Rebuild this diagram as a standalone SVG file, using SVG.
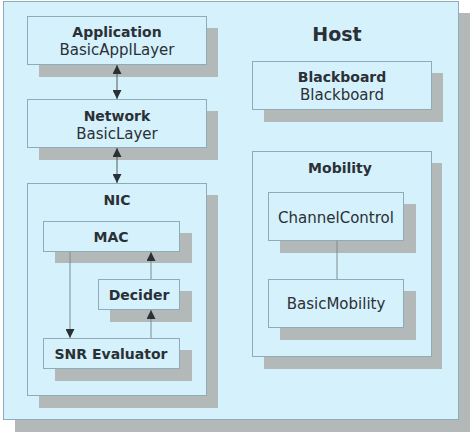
<svg xmlns="http://www.w3.org/2000/svg" width="474" height="434" viewBox="0 0 474 434">
<style>
.sh{fill:#b3b8b9}
.bx{fill:#d5f1fb;stroke:#8fabb8;stroke-width:1}
text{font-family:"DejaVu Sans","Liberation Sans",sans-serif;fill:#2a3036;text-anchor:middle}
.b{font-weight:bold;font-size:14px}
.r{font-size:15px}
.h{font-weight:bold;font-size:19px}
.cn{stroke:#555a5e;stroke-width:1;fill:none}
.cl{stroke:#7f8a8f;stroke-width:1;fill:none}
</style>
<defs>
<marker id="ah" viewBox="0 0 10 10" refX="10" refY="5" markerWidth="9" markerHeight="9" markerUnits="userSpaceOnUse" orient="auto-start-reverse">
<path d="M0,0 L10,5 L0,10 z" fill="#2a3036"/>
</marker>
</defs>
<g id="host">
<rect class="sh" x="15" y="13" width="455" height="419"/>
<rect class="bx" x="3.5" y="1.5" width="455" height="418"/>
<text class="h" x="337" y="41">Host</text>
</g>
<g id="application">
<rect class="sh" x="39" y="28" width="179" height="49"/>
<rect class="bx" x="27.5" y="16.5" width="179" height="48"/>
<text class="b" x="117" y="37">Application</text>
<text class="r" x="117" y="55">BasicApplLayer</text>
</g>
<g id="network">
<rect class="sh" x="39" y="111" width="179" height="49"/>
<rect class="bx" x="27.5" y="99.5" width="179" height="48"/>
<text class="b" x="117" y="121">Network</text>
<text class="r" x="117" y="139">BasicLayer</text>
</g>
<g id="nic">
<rect class="sh" x="39" y="195" width="179" height="213"/>
<rect class="bx" x="27.5" y="183.5" width="179" height="212"/>
<text class="b" x="117" y="205">NIC</text>
</g>
<g id="mac">
<rect class="sh" x="55" y="233" width="137" height="30"/>
<rect class="bx" x="43.5" y="221.5" width="136" height="30"/>
<text class="b" x="111" y="242">MAC</text>
</g>
<g id="decider">
<rect class="sh" x="110" y="291" width="82" height="31"/>
<rect class="bx" x="98.5" y="279.5" width="81" height="30"/>
<text class="b" x="139" y="300">Decider</text>
</g>
<g id="snr">
<rect class="sh" x="55" y="350" width="137" height="31"/>
<rect class="bx" x="43.5" y="338.5" width="136" height="30"/>
<text class="b" x="111" y="359">SNR Evaluator</text>
</g>
<g id="blackboard">
<rect class="sh" x="264" y="73" width="179" height="49"/>
<rect class="bx" x="252.5" y="61.5" width="179" height="48"/>
<text class="b" x="342" y="82">Blackboard</text>
<text class="r" x="342" y="100">Blackboard</text>
</g>
<g id="mobility">
<rect class="sh" x="264" y="163" width="178" height="206"/>
<rect class="bx" x="252.5" y="151.5" width="179" height="205"/>
<text class="b" x="340" y="173">Mobility</text>
</g>
<g id="channelcontrol">
<rect class="sh" x="280" y="204" width="136" height="49"/>
<rect class="bx" x="268.5" y="192.5" width="135" height="48"/>
<text class="r" x="336" y="223">ChannelControl</text>
</g>
<g id="basicmobility">
<rect class="sh" x="280" y="291" width="136" height="49"/>
<rect class="bx" x="268.5" y="279.5" width="135" height="48"/>
<text class="r" x="336" y="309">BasicMobility</text>
</g>
<g id="connectors">
<line class="cn" x1="117" y1="65" x2="117" y2="99" marker-start="url(#ah)" marker-end="url(#ah)"/>
<line class="cn" x1="117" y1="148" x2="117" y2="183" marker-start="url(#ah)" marker-end="url(#ah)"/>
<line class="cl" x1="70" y1="252" x2="70" y2="338" marker-end="url(#ah)"/>
<line class="cl" x1="151" y1="338" x2="151" y2="310" marker-end="url(#ah)"/>
<line class="cl" x1="151" y1="279" x2="151" y2="252" marker-end="url(#ah)"/>
<line class="cl" x1="337" y1="241" x2="337" y2="279"/>
</g>
</svg>
